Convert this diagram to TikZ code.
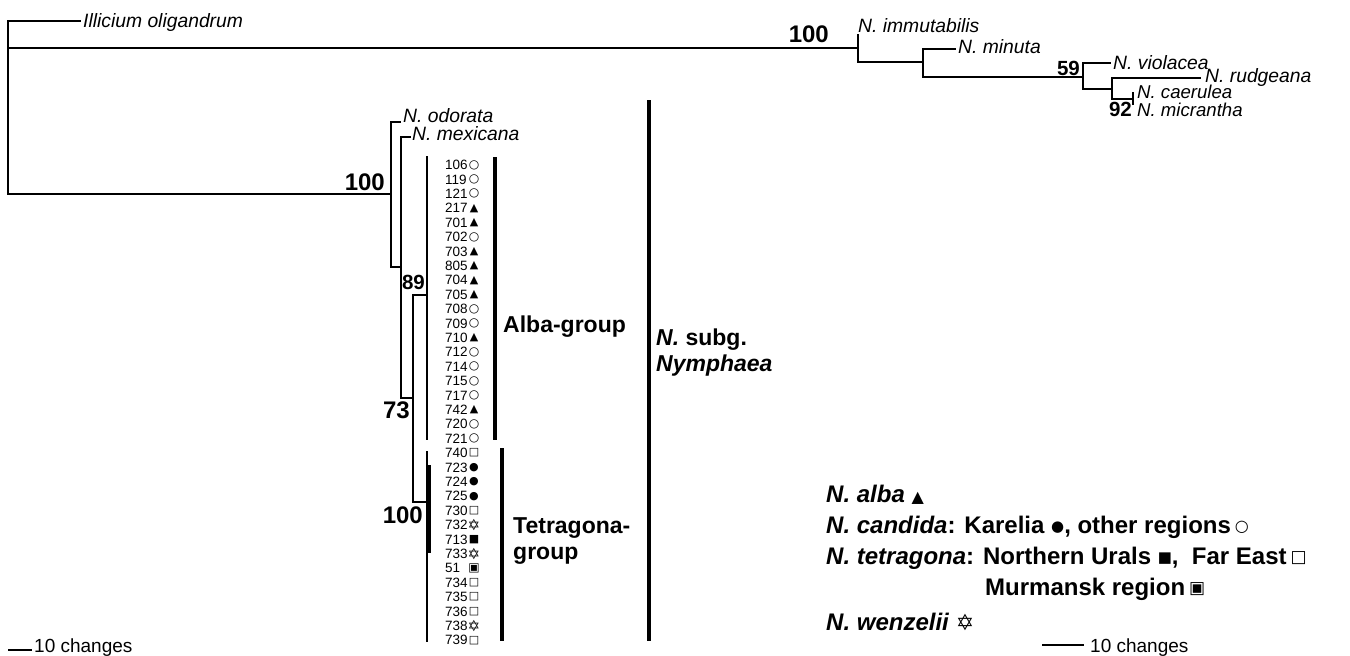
\documentclass[tikz,border=0pt]{standalone}
\usepackage{fontspec}
\setmainfont{Liberation Sans}
\newfontfamily\symfnt{DejaVu Sans}
\usetikzlibrary{calc}
\newcommand\fsz[1]{\fontsize{#1}{#1}\selectfont}
\newcommand\fszb[2]{\fontsize{#1}{#2}\selectfont}
\newcommand\SymOC[1][12]{{\symfnt\fsz{#1}○}}
\newcommand\SymFC[1][11]{{\symfnt\fsz{#1}●}}
\newcommand\SymTri[1][11]{{\symfnt\fsz{#1}▲}}
\newcommand\SymOS[1][11]{{\symfnt\fsz{#1}□}}
\newcommand\SymFS[1][11]{{\symfnt\fsz{#1}■}}
\newcommand\SymMS[1][12]{{\symfnt\fsz{#1}▣}}
\newcommand\SymStar[1][15]{{\symfnt\fsz{#1}✡}}
\newcommand\up[1]{\raisebox{1.8pt}{#1}}
\begin{document}
\begin{tikzpicture}[x=1pt,y=-1pt,
  br/.style={line width=1.9pt, line cap=rect},
  bar/.style={line width=4pt},
  spname/.style={font=\fsz{19.3}\itshape, inner sep=0pt},
  spsmall/.style={font=\fsz{18.6}\itshape, inner sep=0pt},
  bsup/.style={font=\fsz{24}\bfseries, inner sep=0pt},
  bsupsm/.style={font=\fsz{20.5}\bfseries, inner sep=0pt},
  numlab/.style={font=\fsz{13.5}, inner sep=0pt},
  symlab/.style={inner sep=0pt},
  grplab/.style={font=\fszb{23}{26}\bfseries, inner sep=0pt, align=left},
  leglab/.style={font=\fsz{24}\bfseries, inner sep=0pt, anchor=west},
  scalelab/.style={font=\fsz{19}, inner sep=0pt}]
\useasboundingbox (0,0) rectangle (1350,656);
% ---- tree coordinates ----
\coordinate (root) at (8,48);
\coordinate (tIll) at (80,21);
\coordinate (nA) at (858,48);
\coordinate (tImm) at (858,35);
\coordinate (nB) at (923,62);
\coordinate (tMin) at (955,49);
\coordinate (nC) at (1083,77);
\coordinate (tVio) at (1110,63);
\coordinate (nD) at (1112,89);
\coordinate (tRud) at (1200,78);
\coordinate (nE) at (1133,99);
\coordinate (tCae) at (1133,93);
\coordinate (tMic) at (1133,104);
\coordinate (nF) at (391,194);
\coordinate (tOdo) at (400,122);
\coordinate (nG) at (401,267);
\coordinate (tMex) at (410,137);
\coordinate (nH) at (413,398);
\coordinate (nAlba) at (427,295);
\coordinate (aTop) at (427,157);
\coordinate (aBot) at (427,439);
\coordinate (nTet) at (427,502);
\coordinate (tTop) at (427,452);
\coordinate (tBot) at (427,641);
\coordinate (kTop) at (429.5,465);
\coordinate (kBot) at (429.5,553);
% ---- branches ----
\draw[br] (tIll) -| (root) |- (nF);
\draw[br] (root) -- (nA);
\draw[br] (tImm) -- (nA) |- (nB);
\draw[br] (tMin) -| (nB) |- (nC);
\draw[br] (tVio) -| (nC) |- (nD);
\draw[br] (tRud) -| (nD) |- (nE);
\draw[br] (tCae) -- (nE) -- (tMic);
\draw[br] (tOdo) -| (nF) |- (nG);
\draw[br] (tMex) -| (nG) |- (nH);
\draw[br] (nAlba) -| (nH) |- (nTet);
\draw[br] (aTop) -- (aBot);
\draw[br] (tTop) -- (tBot);
\draw[line width=3.5pt] (kTop) -- (kBot);
% ---- species labels ----
\node[spname, anchor=base west] (lIll) at (83,27) {Illicium oligandrum};
\node[spname, anchor=base west] (lImm) at (858,32) {N. immutabilis};
\node[spname, anchor=base west] (lMin) at (958,53) {N. minuta};
\node[spname, anchor=base west] (lVio) at (1113,69) {N. violacea};
\node[spname, anchor=base west] (lRud) at (1205,82) {N. rudgeana};
\node[spsmall, anchor=base west] (lCae) at (1137,98.5) {N. caerulea};
\node[spsmall, anchor=base west] (lMic) at (1137,116) {N. micrantha};
\node[spname, anchor=base west] (lOdo) at (403,122) {N. odorata};
\node[spname, anchor=base west] (lMex) at (412,140) {N. mexicana};
% ---- support values ----
\node[bsup, anchor=base east] (bA) at (829,42) {100};
\node[bsup, anchor=base east] (bF) at (385,190) {100};
\node[bsupsm, anchor=base east] (bAl) at (425,289) {89};
\node[bsup, anchor=base east] (bH) at (410,418) {73};
\node[bsup, anchor=base east] (bT) at (423,523) {100};
\node[bsupsm, anchor=base east] (bC) at (1080,75) {59};
\node[bsupsm, anchor=base east] (bE) at (1132,116) {92};
% ---- sample list ----
\foreach \lab/\sy [count=\i from 0] in {106/\SymOC,119/\SymOC,121/\SymOC,217/\SymTri,701/\SymTri,702/\SymOC,703/\SymTri,805/\SymTri,704/\SymTri,705/\SymTri,708/\SymOC,709/\SymOC,710/\SymTri,712/\SymOC,714/\SymOC,715/\SymOC,717/\SymOC,742/\SymTri,720/\SymOC,721/\SymOC,740/\SymOS,723/\SymFC,724/\SymFC,725/\SymFC,730/\SymOS,732/\SymStar,713/\SymFS,733/\SymStar,51/\SymMS,734/\SymOS,735/\SymOS,736/\SymOS,738/\SymStar,739/\SymOS}{
  \node[numlab, anchor=west] (num\i) at (445,{165+\i*14.4}) {\lab};
  \node[symlab] (sym\i) at (474,{165+\i*14.4}) {\sy};
}
% ---- group bars ----
\coordinate (gA1) at (495,157);
\coordinate (gA2) at (495,440);
\coordinate (gT1) at (502,448);
\coordinate (gT2) at (502,641);
\coordinate (gS1) at (649,100);
\coordinate (gS2) at (649,641);
\draw[bar] (gA1) -- (gA2);
\draw[bar] (gT1) -- (gT2);
\draw[bar] (gS1) -- (gS2);
\node[grplab, anchor=west] (lAlba) at (503,327) {Alba-group};
\node[grplab, anchor=west] (lTet) at (513,541) {Tetragona-\\group};
\node[grplab, anchor=west] (lSub) at (656,353) {\textit{N.} subg.\\\textit{Nymphaea}};
% ---- legend ----
\node[leglab] (lg1) at (826,495) {\textit{N. alba} \SymTri[16]};
\node[leglab] (lg2) at (826,527) {\textit{N. candida}: Karelia \up{\SymFC[15]}, other regions\,\up{\SymOC[16]}};
\node[leglab] (lg3) at (826,558) {\textit{N. tetragona}: Northern Urals \up{\SymFS[15]},\ \ Far East\,\up{\SymOS[17]}};
\node[leglab] (lg4) at (985,589) {Murmansk region\,\up{\SymMS[17]}};
\node[leglab] (lg5) at (826,622) {\textit{N. wenzelii} \SymStar[22]};
% ---- scale bars ----
\coordinate (s1a) at (8,650);
\coordinate (s1b) at (32,650);
\draw[line width=1.6pt] (s1a) -- (s1b);
\node[scalelab, anchor=base west] (sc1) at (34,652) {10 changes};
\coordinate (s2a) at (1042,645);
\coordinate (s2b) at (1084,645);
\draw[line width=1.6pt] (s2a) -- (s2b);
\node[scalelab, anchor=base west] (sc2) at (1090,652) {10 changes};
\end{tikzpicture}
\end{document}
